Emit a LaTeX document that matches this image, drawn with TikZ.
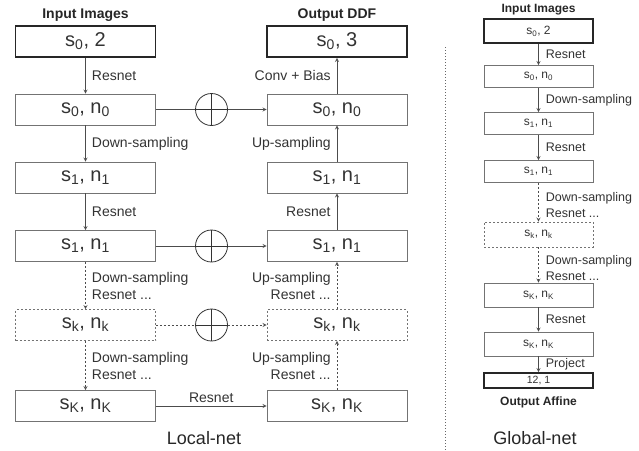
\documentclass[tikz,border=0pt]{standalone}
\usepackage{fontspec}
\setmainfont{Liberation Sans}
\usepackage{tikz}
\usetikzlibrary{shapes.geometric, arrows}
\newcommand{\low}[1]{\textsubscript{#1}}
\tikzstyle{block} = [rectangle, minimum width=140pt, minimum height=31pt, inner sep=0pt, text centered, draw=black!55, line width=0.8pt, text=black!80, font=\fontsize{20}{22}\selectfont]
\tikzstyle{ioblock} = [block, draw=black!85, line width=1.8pt]
\tikzstyle{dblock} = [block, dash pattern=on 2pt off 2pt]
\tikzstyle{gblock} = [rectangle, minimum width=109pt, minimum height=22pt, inner sep=0pt, text centered, draw=black!55, line width=0.8pt, text=black!80, font=\fontsize{12}{13}\selectfont]
\tikzstyle{gio} = [gblock, draw=black!85, line width=1.8pt]
\tikzstyle{gdblock} = [gblock, dash pattern=on 2pt off 2pt]
\tikzstyle{sum} = [circle, minimum size=32pt, inner sep=0pt, draw=black!80, line width=0.8pt, path picture={\draw [black!80, line width=0.8pt] (path picture bounding box.north) -- (path picture bounding box.south) (path picture bounding box.west) -- (path picture bounding box.east);}]
\tikzstyle{arrow} = [line width=0.8pt, draw=black!70, ->, >=stealth]
\tikzstyle{dotarrow} = [arrow, dash pattern=on 2pt off 2pt]
\tikzstyle{lbl} = [text=black!80, font=\fontsize{14}{17}\selectfont]
\tikzstyle{glbl} = [text=black!80, font=\fontsize{12.5}{16}\selectfont]
\tikzstyle{title} = [text=black!85, font=\bfseries\fontsize{14}{16}\selectfont]
\tikzstyle{gtitle} = [text=black!85, font=\bfseries\fontsize{12}{14}\selectfont]

\begin{document}
\begin{tikzpicture}[x=1pt, y=1pt, node distance=68pt]
\useasboundingbox (0,0) rectangle (639,-450);
% Local-net, encoder side
\node (in) [ioblock] at (85.5,-41.5) {s\low{0}, 2};
\node (l0) [block, below of=in] {s\low{0}, n\low{0}};
\node (l1) [block, below of=l0] {s\low{1}, n\low{1}};
\node (l1b) [block, below of=l1, node distance=68.5pt] {s\low{1}, n\low{1}};
\node (lk) [dblock, below of=l1b, node distance=79pt] {s\low{k}, n\low{k}};
\node (lK) [block, below of=lk, node distance=81pt] {s\low{K}, n\low{K}};
% decoder side
\node (out) [ioblock, right of=in, node distance=251.5pt] {s\low{0}, 3};
\node (r0) [block, right of=l0, node distance=251.5pt] {s\low{0}, n\low{0}};
\node (r1) [block, right of=l1, node distance=251.5pt] {s\low{1}, n\low{1}};
\node (r1b) [block, right of=l1b, node distance=251.5pt] {s\low{1}, n\low{1}};
\node (rk) [dblock, right of=lk, node distance=251.5pt] {s\low{k}, n\low{k}};
\node (rK) [block, right of=lK, node distance=251.5pt] {s\low{K}, n\low{K}};
% skip connections
\node (c0) [sum, right of=l0, node distance=126pt] {};
\node (c1) [sum, right of=l1b, node distance=126pt] {};
\node (ck) [sum, right of=lk, node distance=126pt] {};
\node [title, above of=in, node distance=26pt] {Input Images};
\node [title, above of=out, node distance=26pt] {Output DDF};
\node at (204,-438) [text=black!85, font=\fontsize{18}{20}\selectfont] {Local-net};

\draw [arrow] (in) -- (l0) node[midway, right, lbl, inner sep=6pt] {Resnet};
\draw [arrow] (l0) -- (l1) node[midway, right, lbl, inner sep=6pt] {Down-sampling};
\draw [arrow] (l1) -- (l1b) node[midway, right, lbl, inner sep=6pt] {Resnet};
\draw [dotarrow] (l1b) -- (lk) node[midway, right, lbl, inner sep=6pt, align=left] {Down-sampling\\Resnet ...};
\draw [dotarrow] (lk) -- (lK) node[midway, right, lbl, inner sep=6pt, align=left] {Down-sampling\\Resnet ...};
\draw [arrow] (lK) -- (rK) node[midway, above, lbl, inner sep=3pt] {Resnet};
\draw [dotarrow] (rK) -- (rk) node[midway, left, lbl, inner sep=6pt, align=right] {Up-sampling\\Resnet ...};
\draw [dotarrow] (rk) -- (r1b) node[midway, left, lbl, inner sep=6pt, align=right] {Up-sampling\\Resnet ...};
\draw [arrow] (r1b) -- (r1) node[midway, left, lbl, inner sep=6pt] {Resnet};
\draw [arrow] (r1) -- (r0) node[midway, left, lbl, inner sep=6pt] {Up-sampling};
\draw [arrow] (r0) -- (out) node[midway, left, lbl, inner sep=6pt] {Conv + Bias};
\draw [line width=0.8pt, draw=black!70] (l0) -- (c0);
\draw [arrow] (c0) -- (r0);
\draw [line width=0.8pt, draw=black!70] (l1b) -- (c1);
\draw [arrow] (c1) -- (r1b);
\draw [line width=0.8pt, draw=black!70, dash pattern=on 2pt off 2pt] (lk) -- (ck);
\draw [dotarrow] (ck) -- (rk);

% separator
\draw [black!60, line width=0.8pt, dash pattern=on 1pt off 2pt] (445,-47) -- (445,-450);

% Global-net
\node (gin) [gio, minimum height=24pt] at (538.5,-31) {s\low{0}, 2};
\node (g0) [gblock, below of=gin, node distance=45.5pt] {s\low{0}, n\low{0}};
\node (g1) [gblock, below of=g0, node distance=47pt] {s\low{1}, n\low{1}};
\node (g1b) [gblock, below of=g1, node distance=48pt] {s\low{1}, n\low{1}};
\node (gk) [gdblock, minimum height=25pt, below of=g1b, node distance=63pt] {s\low{k}, n\low{k}};
\node (gK) [gblock, minimum height=24pt, below of=gk, node distance=60.5pt] {s\low{K}, n\low{K}};
\node (gK2) [gblock, minimum height=24pt, below of=gK, node distance=49pt] {s\low{K}, n\low{K}};
\node (gout) [gio, minimum height=15pt, font=\fontsize{10.5}{11}\selectfont, below of=gK2, node distance=36.5pt] {12, 1};
\node [gtitle, above of=gin, node distance=21pt] {Input Images};
\node [gtitle, below of=gout, node distance=21.5pt] {Output Affine};
\node at (535,-438) [text=black!85, font=\fontsize{18}{20}\selectfont] {Global-net};

\draw [arrow] (gin) -- (g0) node[midway, right, glbl, inner sep=7pt] {Resnet};
\draw [arrow] (g0) -- (g1) node[midway, right, glbl, inner sep=7pt] {Down-sampling};
\draw [arrow] (g1) -- (g1b) node[midway, right, glbl, inner sep=7pt] {Resnet};
\draw [dotarrow] (g1b) -- (gk) node[midway, right, glbl, inner sep=7pt, yshift=-3pt, align=left] {Down-sampling\\Resnet ...};
\draw [dotarrow] (gk) -- (gK) node[midway, right, glbl, inner sep=7pt, yshift=-3pt, align=left] {Down-sampling\\Resnet ...};
\draw [arrow] (gK) -- (gK2) node[midway, right, glbl, inner sep=7pt] {Resnet};
\draw [arrow] (gK2) -- (gout) node[midway, right, glbl, inner sep=7pt] {Project};
\end{tikzpicture}
\end{document}
